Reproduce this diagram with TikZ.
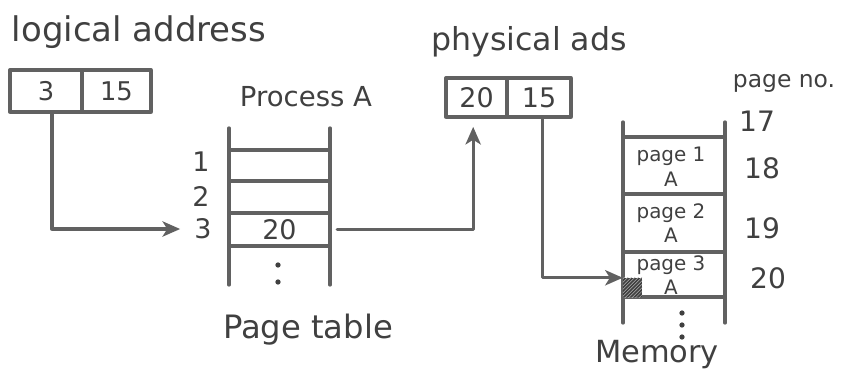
\documentclass[tikz,border=0pt]{standalone}
\usepackage{fontspec}
\setmainfont{DejaVu Sans}
\usetikzlibrary{arrows.meta,patterns}
\definecolor{inkline}{gray}{0.38}
\definecolor{inktext}{gray}{0.25}
\tikzset{
  pen/.style={draw=inkline, line width=2.8pt, line cap=round, line join=round},
  arrowline/.style={pen, -{Stealth[length=15pt,width=13pt,inset=4pt]}},
  cell/.style={pen, inner sep=0pt, text=inktext},
  lbl/.style={inner sep=0pt, text=inktext},
  dot/.style={circle, fill=inktext, inner sep=0pt, minimum size=4.5pt},
}
\newcommand{\fs}[1]{\fontsize{#1}{#1}\selectfont}
\begin{document}
\begin{tikzpicture}[x=0.03cm,y=-0.03cm]
\useasboundingbox (0,0) rectangle (846,378);

% headings
\node[lbl, font=\fs{29pt}] (lahead) at (139,32) {logical address};
\node[lbl, font=\fs{27pt}] (pahead) at (529,42) {physical ads};
\node[lbl, font=\fs{23.5pt}] (proc) at (306,97) {Process A};

% logical address register
\node[cell, minimum width=2.16cm, minimum height=1.26cm, font=\fs{22pt}] (la3) at (46,91) {3};
\node[cell, minimum width=2.07cm, minimum height=1.26cm, font=\fs{22pt}] (la15) at (116.5,91) {15};

% physical address register
\node[cell, minimum width=1.83cm, minimum height=1.17cm, font=\fs{23pt}] (pa20) at (476.5,97.5) {20};
\node[cell, minimum width=1.92cm, minimum height=1.17cm, font=\fs{23pt}] (pa15) at (539,97.5) {15};

% page table
\draw[pen] (229,128) -- (229,285);
\draw[pen] (330,128) -- (330,285);
\foreach \yy in {150,181,213,246} \draw[pen] (229,\yy) -- (330,\yy);
\node[lbl, font=\fs{23pt}] (n1) at (201,162) {1};
\node[lbl, font=\fs{23pt}] (n2) at (201,196) {2};
\node[lbl, font=\fs{23pt}] (n3) at (203,229) {3};
\node[lbl, minimum width=3.03cm, minimum height=0.99cm, font=\fs{23pt}] (pt3) at (279.5,229.5) {20};
\node[dot] (ptd1) at (278,265) {};
\node[dot] (ptd2) at (278,282) {};
\node[lbl, font=\fs{27.5pt}] (ptname) at (308,330) {Page table};

% memory frames
\draw[pen] (623,122) -- (623,323);
\draw[pen] (725,122) -- (725,323);
\foreach \yy in {137,194,252,297} \draw[pen] (623,\yy) -- (725,\yy);
\tikzset{frametext/.style={lbl, align=center, font=\fontsize{17pt}{21pt}\selectfont}}
\node[frametext] (m1) at (671,167) {page 1\\A};
\node[frametext] (m2) at (671,223) {page 2\\A};
\node[frametext] (m3) at (671,275) {page 3\\A};
\node[inner sep=0pt, minimum width=0.57cm, minimum height=0.57cm, fill=inktext] (hatch) at (632.5,287.5) {};
\path[pattern=north east lines, pattern color=gray!60] (hatch.south west) rectangle (hatch.north east);
\node[dot] (md1) at (682,313) {};
\node[dot] (md2) at (682,325) {};
\node[dot] (md3) at (682,337) {};
\node[lbl, font=\fs{26pt}] (memname) at (657,355) {Memory};

% frame numbers
\node[lbl, font=\fs{20pt}] (pgno) at (784,83) {page no.};
\node[lbl, font=\fs{24pt}] (f17) at (757,121) {17};
\node[lbl, font=\fs{24pt}] (f18) at (762,168) {18};
\node[lbl, font=\fs{24pt}] (f19) at (762,228) {19};
\node[lbl, font=\fs{24pt}] (f20) at (768,278) {20};

% translation path
\draw[arrowline, shorten >=12pt] ([xshift=0.18cm]la3.south) |- (n3.west);
\draw[arrowline, shorten <=6pt, shorten >=7pt] (pt3.east) -| ([xshift=-0.1cm]pa20.south);
\draw[arrowline] ([xshift=0.1cm]pa15.south) |- (hatch.north west);
\end{tikzpicture}
\end{document}
